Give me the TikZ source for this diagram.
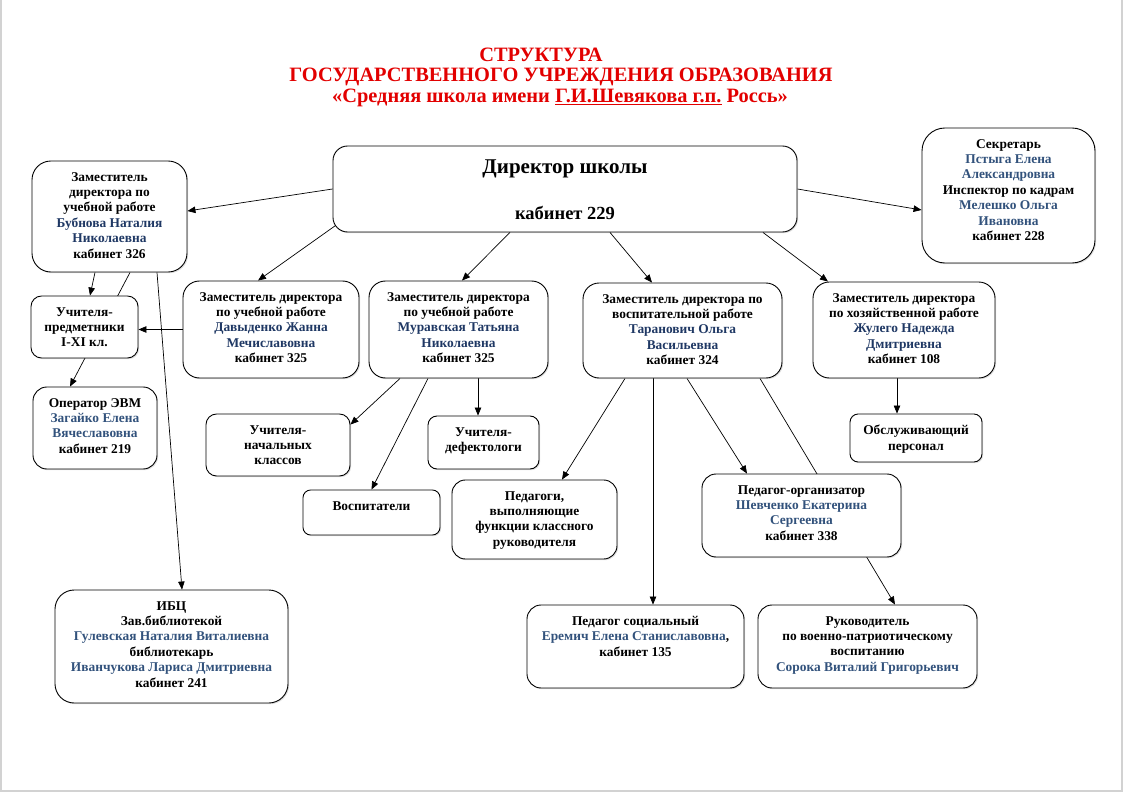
\documentclass[tikz,border=0pt]{standalone}
\usepackage{fontspec}
\setmainfont{Liberation Serif}
\usepackage{tikz}
\usetikzlibrary{arrows.meta, positioning, calc, shadows}

\definecolor{titlered}{RGB}{226,0,0}
\definecolor{namedark}{RGB}{31,56,100}
\definecolor{namesteel}{RGB}{50,82,124}

\pgfdeclarelayer{background}
\pgfsetlayers{background,main}

\begin{document}
\begin{tikzpicture}[
    x=1pt, y=-1pt,
    font=\fontsize{13.4}{15.4}\selectfont\bfseries,
    >={Triangle[length=8pt, width=6.5pt]},
    orgbox/.style={draw=black, line width=0.9pt, fill=white, inner sep=0pt,
        drop shadow={shadow xshift=1.2pt, shadow yshift=-1.2pt, opacity=0.25}},
    boxtext/.style={align=center, inner sep=0pt},
    link/.style={->, line width=0.7pt},
    ]
    \useasboundingbox (0,0) rectangle (1124,794);

    % Rounded box from its corners, text set from the top
    \newcommand{\orgunit}[6]{
        \pgfmathsetmacro{\unitw}{#4-#2}
        \pgfmathsetmacro{\unith}{#5-#3}
        \pgfmathsetmacro{\unitr}{0.17*min(\unitw,\unith)}
        \node[orgbox, minimum width=\unitw pt, minimum height=\unith pt,
            rounded corners=\unitr pt] (#1) at ({(#2+#4)/2}, {(#3+#5)/2}) {};
        \node[boxtext, anchor=north] (#1-text) at ([yshift=-11.5pt]#1.north) {#6};
    }
    \newcommand{\nmd}[1]{\textcolor{namedark}{#1}}
    \newcommand{\nms}[1]{\textcolor{namesteel}{#1}}

    % page edge
    \draw[gray!35, line width=1.5pt] (1,0) -- (1,791) -- (1122,791) -- (1122,0);

    % ==========================================
    % Title
    % ==========================================
    \node[font=\fontsize{20.4}{24}\selectfont\bfseries, text=titlered] (title1) at (541,55) {СТРУКТУРА};
    \node[font=\fontsize{20.4}{24}\selectfont\bfseries, text=titlered] (title2) at (561,77) {ГОСУДАРСТВЕННОГО УЧРЕЖДЕНИЯ ОБРАЗОВАНИЯ};
    \node[font=\fontsize{20.4}{24}\selectfont\bfseries, text=titlered] (title3) at (560,98) {«Средняя школа имени \underline{Г.И.Шевякова г.п.} Россь»};

    % ==========================================
    % Director
    % ==========================================
    \node[orgbox, minimum width=464pt, minimum height=86pt, rounded corners=14.6pt] (dir) at (565,189) {};
    \node[font=\fontsize{21}{25}\selectfont\bfseries] (dir-title) at ([yshift=-23pt]dir.north) {Директор школы};
    \node[font=\fontsize{18.5}{22}\selectfont\bfseries] (dir-room) at ([yshift=-67pt]dir.north) {кабинет 229};

    % ==========================================
    % Boxes: id, x1, y1, x2, y2, text
    % ==========================================
    \orgunit{bub}{32}{161}{187}{272}{Заместитель\\директора по\\учебной работе\\\nmd{Бубнова Наталия}\\\nmd{Николаевна}\\кабинет 326}
    \orgunit{sec}{922}{128}{1095}{263}{Секретарь\\\nms{Пстыга Елена}\\\nms{Александровна}\\Инспектор по кадрам\\\nms{Мелешко Ольга}\\\nms{Ивановна}\\кабинет 228}
    \orgunit{pred}{31}{296}{138}{358}{Учителя-\\предметники\\I-XI кл.}
    \orgunit{oper}{33}{387}{157}{469}{Оператор ЭВМ\\\nms{Загайко Елена}\\\nms{Вячеславовна}\\кабинет 219}
    \orgunit{dav}{183}{281}{359}{378}{Заместитель директора\\по учебной работе\\\nmd{Давыденко Жанна}\\\nmd{Мечиславовна}\\кабинет 325}
    \orgunit{mur}{369}{281}{548}{378}{Заместитель директора\\по учебной работе\\\nmd{Муравская Татьяна}\\\nmd{Николаевна}\\кабинет 325}
    \orgunit{tar}{583}{283}{782}{378}{Заместитель директора по\\воспитательной работе\\\nmd{Таранович Ольга}\\\nmd{Васильевна}\\кабинет 324}
    \orgunit{zhul}{813}{282}{995}{378}{Заместитель директора\\по хозяйственной работе\\\nmd{Жулего Надежда}\\\nmd{Дмитриевна}\\кабинет 108}
    \orgunit{nach}{206}{414}{350}{476}{Учителя-\\начальных\\классов}
    \orgunit{defek}{428}{416}{539}{469}{Учителя-\\дефектологи}
    \orgunit{vosp}{303}{490}{440}{535}{Воспитатели}
    \orgunit{ped}{452}{480}{617}{559}{Педагоги,\\выполняющие\\функции классного\\руководителя}
    \orgunit{obs}{850}{414}{982}{462}{Обслуживающий\\персонал}
    \orgunit{org}{702}{474}{901}{557}{Педагог-организатор\\\nms{Шевченко Екатерина}\\\nms{Сергеевна}\\кабинет 338}
    \orgunit{ibc}{55}{590}{288}{703}{ИБЦ\\Зав.библиотекой\\\nms{Гулевская Наталия Виталиевна}\\библиотекарь\\\nms{Иванчукова Лариса Дмитриевна}\\кабинет 241}
    \orgunit{soc}{527}{605}{744}{688}{Педагог социальный\\\nms{Еремич Елена Станиславовна},\\кабинет 135}
    \orgunit{ruk}{758}{605}{977}{688}{Руководитель\\по военно-патриотическому\\воспитанию\\\nms{Сорока Виталий Григорьевич}}

    % ==========================================
    % Connectors (behind the boxes)
    % ==========================================
    \begin{pgfonlayer}{background}
        % director to deputies
        \draw[link] (dir.west) -- ([yshift=5.5pt]bub.east);
        \draw[link] (dir.east) -- ([yshift=-14.5pt]sec.west);
        \draw[link] ($(dir.south west)+(20,-19)$) -- ([xshift=-13pt]dav.north);
        \draw[link] ([xshift=-55pt]dir.south) -- ([xshift=3.5pt]mur.north);
        \draw[link] ([xshift=45pt]dir.south) -- ([xshift=-30.5pt]tar.north);
        \draw[link] ([xshift=198pt]dir.south) -- ([xshift=-76pt]zhul.north);

        % left branch
        \draw[link] ([xshift=-14.5pt]bub.south) -- ([xshift=5.5pt]pred.north);
        \draw[link] ([xshift=20.5pt]bub.south) -- ([xshift=-25pt]oper.north);
        \draw[link] ([xshift=47.5pt]bub.south) -- ([xshift=10.5pt]ibc.north);
        \draw[link] (dav.west) -- (pred.east |- dav.west);

        % Муравская
        \draw[link] ([xshift=-58.5pt]mur.south) -- ($(nach.north east)+(0,11)$);
        \draw[link] ([xshift=-30.5pt]mur.south) -- (vosp.north);
        \draw[link] ([xshift=19.5pt]mur.south) -- ([xshift=-5.5pt]defek.north);

        % Таранович
        \draw[link] ([xshift=-57.5pt]tar.south) -- ([xshift=27.5pt]ped.north);
        \draw[link] ([xshift=-29.5pt]tar.south) -- ([xshift=17.5pt]soc.north);
        \draw[link] ([xshift=4.5pt]tar.south) -- ([xshift=-54.5pt]org.north);
        \draw[link] ([xshift=77.5pt]tar.south) -- ([xshift=27.5pt]ruk.north);

        % Жулего
        \draw[link] ([xshift=-7pt]zhul.south) -- ([xshift=-19pt]obs.north);
    \end{pgfonlayer}

\end{tikzpicture}
\end{document}
